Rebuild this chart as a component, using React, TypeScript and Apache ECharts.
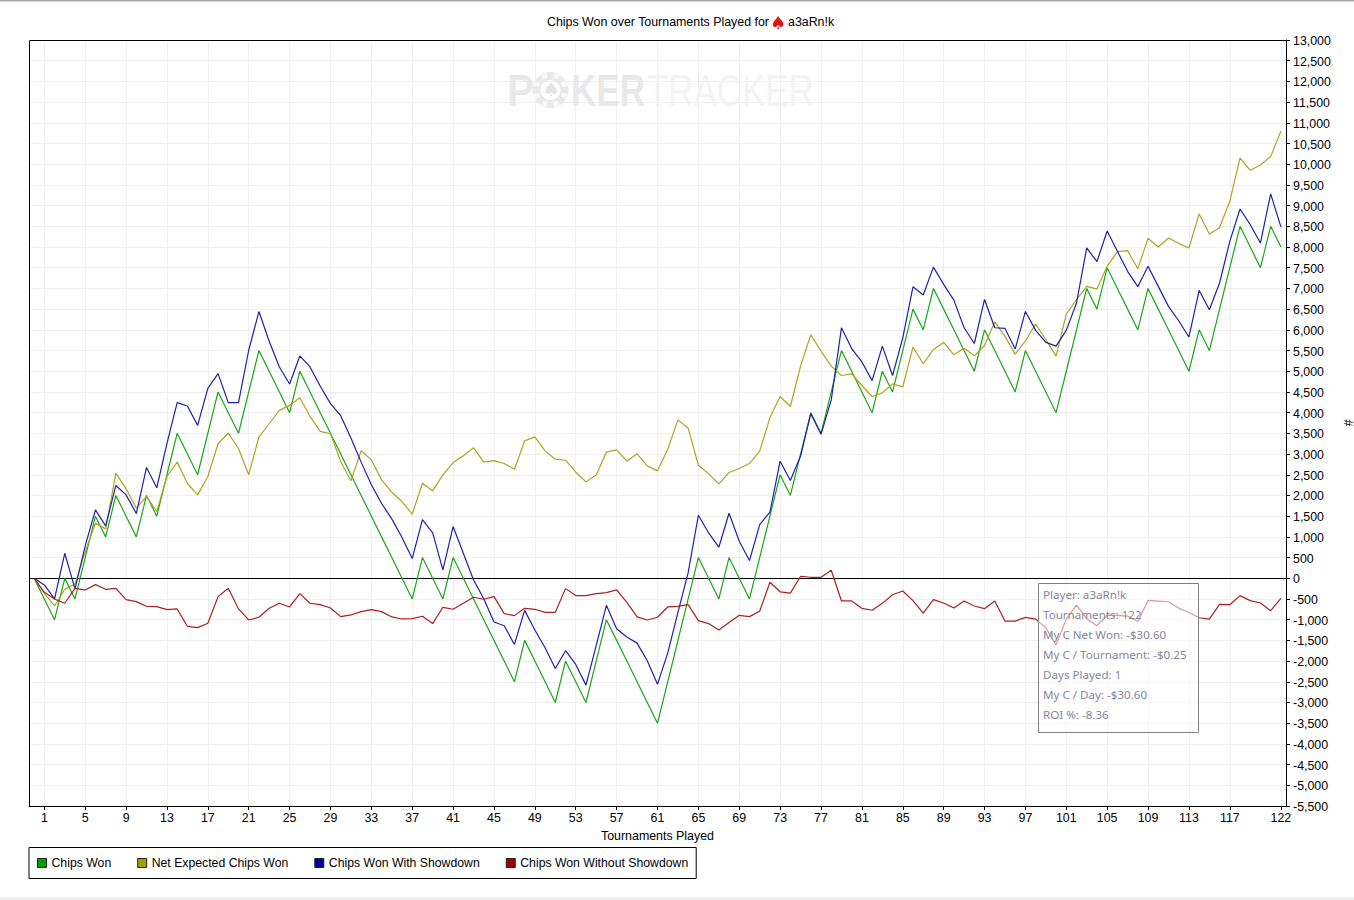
import React, { useEffect, useRef } from "react";
import * as echarts from "echarts";

const tournaments = Array.from({ length: 123 }, (_, i) => String(i));
const tickLabels = ["1","5","9","13","17","21","25","29","33","37","41","45","49","53","57","61","65","69","73","77","81","85","89","93","97","101","105","109","113","117","122"];

const chipsWon = [
  0,-500,-1000,0,-500,500,1500,1000,2000,1500,
  1000,2000,1500,2500,3500,3000,2500,3500,4500,4000,
  3500,4500,5500,5000,4500,4000,5000,4500,4000,3500,
  3000,2500,2000,1500,1000,500,0,-500,500,0,
  -500,500,0,-500,-1000,-1500,-2000,-2500,-1500,-2000,
  -2500,-3000,-2000,-2500,-3000,-2000,-1000,-1500,-2000,-2500,
  -3000,-3500,-2500,-1500,-500,500,0,-500,500,0,
  -500,500,1500,2500,2000,3000,4000,3500,4500,5500,
  5000,4500,4000,5000,4500,5500,6500,6000,7000,6500,
  6000,5500,5000,6000,5500,5000,4500,5500,5000,4500,
  4000,5000,6000,7000,6500,7500,7000,6500,6000,7000,
  6500,6000,5500,5000,6000,5500,6500,7500,8500,8000,
  7500,8500,8000,
];
const netExpected = [
  0,-362,-669,-266,-137,640,1330,1193,2539,2160,
  1693,1975,1612,2458,2805,2289,2015,2458,3248,3506,
  3135,2499,3417,3732,4054,4175,4360,3909,3546,3490,
  2821,2353,3079,2860,2376,2078,1853,1547,2296,2110,
  2497,2795,2956,3150,2803,2843,2771,2634,3319,3415,
  3077,2876,2851,2561,2328,2497,3045,3101,2827,3005,
  2715,2594,3117,3826,3625,2731,2521,2280,2553,2650,
  2771,3069,3875,4390,4148,5123,5880,5486,5123,4897,
  4938,4656,4390,4479,4696,4624,5582,5180,5526,5695,
  5397,5558,5373,5622,6194,5843,5414,5729,6140,5762,
  5366,6381,6727,7050,6985,7533,7888,7912,7477,8210,
  8001,8218,8089,7977,8799,8315,8468,9104,10151,9853,
  9982,10183,10803,
];
const withShowdown = [
  0,-160,-500,604,-258,782,1653,1266,2242,2015,
  1564,2677,2185,3257,4241,4160,3692,4587,4943,4242,
  4241,5507,6442,5725,5104,4693,5370,5104,4636,4217,
  3926,3386,2805,2257,1805,1434,983,475,1418,1095,
  201,1249,604,-41,-493,-1057,-1146,-1598,-775,-1251,
  -1678,-2178,-1750,-2081,-2581,-1629,-654,-1218,-1420,-1566,
  -1993,-2558,-1807,-823,136,1522,1095,750,1570,894,
  427,1297,1595,2827,2360,2952,3976,3476,4307,6048,
  5548,5225,4773,5606,4897,5808,7040,6840,7515,7097,
  6718,6050,5670,6734,6050,6033,5536,6445,5987,5697,
  5608,5987,6648,7977,7647,8388,7896,7413,7043,7534,
  7050,6567,6220,5826,6954,6487,7131,8138,8919,8540,
  8098,9282,8485,
];
const withoutShowdown = [
  0,-340,-500,-604,-242,-282,-153,-266,-242,-515,
  -564,-677,-685,-757,-741,-1160,-1192,-1087,-443,-242,
  -741,-1007,-942,-725,-604,-693,-370,-604,-636,-717,
  -926,-886,-805,-757,-805,-934,-983,-975,-918,-1095,
  -701,-749,-604,-459,-507,-443,-854,-902,-725,-749,
  -822,-822,-250,-419,-419,-371,-346,-282,-580,-934,
  -1007,-942,-693,-677,-636,-1022,-1095,-1250,-1070,-894,
  -927,-797,-95,-327,-360,48,24,24,193,-548,
  -548,-725,-773,-606,-397,-308,-540,-840,-515,-597,
  -718,-550,-670,-734,-550,-1033,-1036,-945,-987,-1197,
  -1608,-987,-648,-977,-1147,-888,-896,-913,-1043,-534,
  -550,-567,-720,-826,-954,-987,-631,-638,-419,-540,
  -598,-782,-485,
];
const statLines = [
  "Player: a3aRn!k",
  "Tournaments: 122",
  "My C Net Won: -$30.60",
  "My C / Tournament: -$0.25",
  "Days Played: 1",
  "My C / Day: -$30.60",
  "ROI %: -8.36",
];

const FONT = "'Liberation Sans', Arial, sans-serif";
const FS = 12.4;
const seriesDefs = [
  { name: "Chips Won", data: chipsWon, line: "#1aa61a", legend: "#00a000" },
  { name: "Net Expected Chips Won", data: netExpected, line: "#aca622", legend: "#a0a000" },
  { name: "Chips Won With Showdown", data: withShowdown, line: "#2020aa", legend: "#0000a0" },
  { name: "Chips Won Without Showdown", data: withoutShowdown, line: "#aa2020", legend: "#a00000" },
];

function chipNotches() {
  const out: any[] = [];
  for (let k = 0; k < 8; k++) {
    const a = (k * Math.PI) / 4 + Math.PI / 8;
    out.push({
      type: "sector",
      z: 1,
      silent: true,
      shape: { cx: 550.5, cy: 90, r: 18, r0: 12, startAngle: a - 0.17, endAngle: a + 0.17 },
      style: { fill: "#f8f8f8" },
    });
  }
  return out;
}

export default function App() {
  const ref = useRef<HTMLDivElement>(null);
  useEffect(() => {
    const chart = echarts.init(ref.current!, undefined, { renderer: "svg" });
    const wm = { fontFamily: FONT, fontSize: 45, fontWeight: "bold" as const, fill: "#e9e9e9" };
    chart.setOption({
      animation: false,
      backgroundColor: "#ffffff",
      textStyle: { fontFamily: FONT },
      title: {
        text: "Chips Won over Tournaments Played for",
        left: 547,
        top: 16,
        padding: 0,
        textStyle: { fontFamily: FONT, fontSize: FS, fontWeight: "normal", color: "#000" },
      },
      grid: {
        left: 29,
        top: 40,
        width: 1257,
        height: 766,
        outerBoundsMode: "none",
        containLabel: false,
        show: false,
      },
      xAxis: {
        type: "category",
        data: tournaments,
        boundaryGap: true,
        name: "Tournaments Played",
        nameLocation: "middle",
        nameGap: 24,
        nameTextStyle: { color: "#000", fontSize: FS, fontFamily: FONT },
        axisLine: { show: true, onZero: false, lineStyle: { color: "#000" } },
        axisTick: {
          show: true,
          length: 4,
          alignWithLabel: true,
          interval: (_: number, v: string) => tickLabels.includes(v),
          lineStyle: { color: "#000" },
        },
        axisLabel: {
          interval: (_: number, v: string) => tickLabels.includes(v),
          color: "#000",
          fontSize: FS,
          margin: 6,
          fontFamily: FONT,
          hideOverlap: false,
        },
        splitLine: {
          show: true,
          alignWithLabel: true,
          interval: (_: number, v: string) => tickLabels.includes(v),
          lineStyle: { color: "#efefef", width: 1 },
        },
      },
      yAxis: {
        type: "value",
        position: "right",
        min: -5500,
        max: 13000,
        interval: 500,
        name: "#",
        nameLocation: "middle",
        nameRotate: -90,
        nameGap: 53,
        nameTextStyle: { color: "#000", fontSize: FS, fontFamily: FONT },
        axisLine: { show: true, lineStyle: { color: "#000" } },
        axisTick: { show: true, length: 4, lineStyle: { color: "#000" } },
        axisLabel: {
          color: "#000",
          fontSize: FS,
          margin: 7,
          verticalAlign: "top",
          lineHeight: 2,
          fontFamily: FONT,
          formatter: (v: number) => v.toLocaleString("en-US"),
        },
        splitLine: { show: true, lineStyle: { color: "#efefef", width: 1 } },
      },
      legend: {
        left: 29,
        top: 847.5,
        orient: "horizontal",
        padding: [9.5, 8, 9.5, 8],
        itemGap: 26,
        itemWidth: 9,
        itemHeight: 9,
        icon: "rect",
        borderColor: "#000",
        borderWidth: 1,
        backgroundColor: "#fff",
        textStyle: { color: "#000", fontSize: 12.25, fontFamily: FONT },
        selectedMode: false,
        data: seriesDefs.map((s) => ({
          name: s.name,
          itemStyle: { color: s.legend, borderColor: "#222", borderWidth: 1 },
        })),
      },
      series: seriesDefs.map((s, i) => ({
        type: "line",
        name: s.name,
        data: s.data,
        symbol: "none",
        silent: true,
        lineStyle: { color: s.line, width: 1.2 },
        itemStyle: { color: s.legend },
        z: 3 + i,
        markLine:
          i === 0
            ? {
                silent: true,
                symbol: "none",
                label: { show: false },
                lineStyle: { color: "#000", width: 1, type: "solid" },
                data: [{ yAxis: 0 }],
                z: 2,
              }
            : undefined,
      })),
      graphic: [
        { type: "rect", silent: true, z: 0, shape: { x: 0, y: 0, width: 1354, height: 1.5 }, style: { fill: "#a8a8a8" } },
        { type: "rect", silent: true, z: 0, shape: { x: 0, y: 897, width: 1354, height: 3 }, style: { fill: "#f0f0f0" } },
        { type: "rect", silent: true, z: 2, shape: { x: 29.5, y: 40.5, width: 1257, height: 766 }, style: { fill: "none", stroke: "#000", lineWidth: 1 } },
        { type: "text", silent: true, z: 1, x: 770, y: 13.5, style: { text: "♠", fontFamily: "'DejaVu Sans'", fontSize: 18, fill: "#de1616" } },
        { type: "text", silent: true, z: 1, x: 788, y: 16, style: { text: "a3aRn!k", fontFamily: FONT, fontSize: FS, fill: "#000" } },
        { type: "text", z: 1, silent: true, x: 507, y: 68, scaleX: 0.9, style: { ...wm, text: "P" } },
        { type: "ring", z: 1, silent: true, shape: { cx: 550.5, cy: 90, r: 18, r0: 10 }, style: { fill: "#e9e9e9" } },
        ...chipNotches(),
        { type: "text", z: 1, silent: true, x: 542.5, y: 79, style: { text: "♠", fontFamily: "'DejaVu Sans'", fontSize: 19, fill: "#e4e4e4" } },
        { type: "text", z: 1, silent: true, x: 571, y: 68, scaleX: 0.78, style: { ...wm, text: "KER" } },
        { type: "text", z: 1, silent: true, x: 647, y: 68, scaleX: 0.775, style: { ...wm, fontWeight: "normal", fill: "#f3f3f3", text: "TRACKER" } },
        {
          type: "rect",
          z: 20,
          silent: true,
          shape: { x: 1038.5, y: 583.5, width: 160, height: 149 },
          style: { fill: "rgba(255,255,255,0.55)", stroke: "#808080", lineWidth: 1 },
        },
        ...statLines.map((t, i) => ({
          type: "text",
          z: 21,
          silent: true,
          x: 1043,
          y: 588.5 + i * 20,
          style: { text: t, fontFamily: "'Noto Sans'", fontSize: 11.6, fill: "#85859a" },
        })),
      ],
    });
    return () => chart.dispose();
  }, []);
  return <div ref={ref} style={{ position: "absolute", left: 0, top: 0, width: 1354, height: 900 }} />;
}
